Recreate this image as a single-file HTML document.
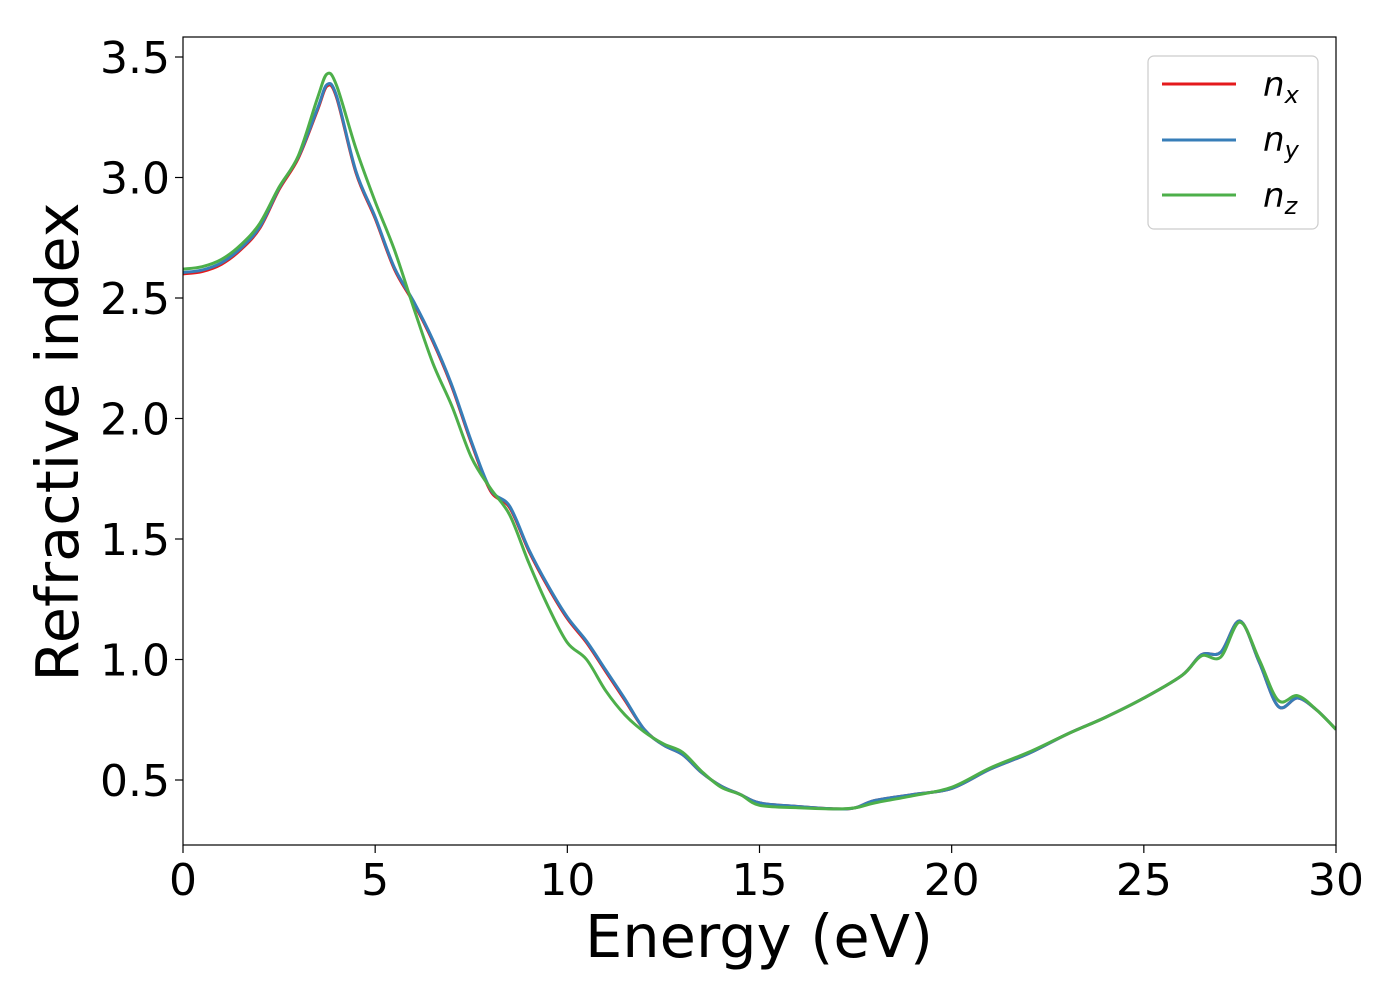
<!DOCTYPE html>
<html><head><meta charset="utf-8"><style>
body{margin:0;background:#fff;font-family:"Liberation Sans","DejaVu Sans",sans-serif}
svg text{font-family:"DejaVu Sans","Liberation Sans",sans-serif}
</style></head><body>
<svg id="chart" width="1400" height="1000" viewBox="0 0 1400 1000" xmlns="http://www.w3.org/2000/svg">
<rect width="1400" height="1000" fill="#fff"/>
<g id="plot"></g>
<g id="axes"></g>
</svg>
<script>
const energies = [0,0.5,1,1.5,2,2.5,3,3.5,3.75,4,4.5,5,5.5,6,6.5,7,7.5,8,8.5,9,9.5,10,10.5,11,11.5,12,12.5,13,13.5,14,14.5,15,16,17,17.5,18,19,20,21,22,23,24,25,26,26.5,27,27.5,28,28.5,29,29.5,30];
const nxValues = [2.60,2.61,2.64,2.70,2.79,2.95,3.08,3.28,3.38,3.33,3.02,2.83,2.62,2.48,2.32,2.13,1.90,1.70,1.63,1.45,1.30,1.17,1.07,0.95,0.83,0.71,0.645,0.605,0.53,0.475,0.44,0.405,0.39,0.38,0.385,0.415,0.44,0.465,0.545,0.61,0.69,0.76,0.84,0.935,1.02,1.03,1.16,0.99,0.805,0.84,0.79,0.71];
const nyValues = nxValues.map((v,i)=>v+(energies[i]<12?0.006:0));
const nzValues = [2.62,2.63,2.66,2.72,2.81,2.96,3.09,3.33,3.43,3.38,3.12,2.90,2.70,2.46,2.23,2.05,1.84,1.71,1.60,1.40,1.22,1.07,1.00,0.87,0.77,0.70,0.65,0.615,0.535,0.47,0.44,0.395,0.385,0.38,0.385,0.405,0.435,0.47,0.55,0.615,0.69,0.76,0.84,0.935,1.015,1.01,1.155,1.00,0.83,0.85,0.79,0.71];
const xTicks = [0,5,10,15,20,25,30];
const yTicks = [0.5,1.0,1.5,2.0,2.5,3.0,3.5];
const yTickLabels = ["0.5","1.0","1.5","2.0","2.5","3.0","3.5"];

const X0=183,X1=1336,Y0=37,Y1=845;
const xs = v => X0 + (v-0)/(30-0)*(X1-X0);
const ys = v => 780 - (v-0.5)*241;
const NS="http://www.w3.org/2000/svg";
function mk(tag,attrs,parent){const e=document.createElementNS(NS,tag);for(const k in attrs)e.setAttribute(k,attrs[k]);parent.appendChild(e);return e;}
function path(xv,yv){
  const p=xv.map((x,i)=>[xs(x),ys(yv[i])]);
  let d=`M${p[0][0]},${p[0][1]}`;
  for(let i=0;i<p.length-1;i++){
    const a=p[Math.max(0,i-1)],b=p[i],c=p[i+1],e=p[Math.min(p.length-1,i+2)];
    const c1=[b[0]+(c[0]-a[0])/6,b[1]+(c[1]-a[1])/6],c2=[c[0]-(e[0]-b[0])/6,c[1]-(e[1]-b[1])/6];
    d+=`C${c1[0]},${c1[1]} ${c2[0]},${c2[1]} ${c[0]},${c[1]}`;
  }
  return d;
}
const plot=document.getElementById('plot'), axes=document.getElementById('axes');
const clip=mk('clipPath',{id:'clp'},plot);mk('rect',{x:X0,y:Y0,width:X1-X0,height:Y1-Y0},clip);
const series=[["nx",nxValues,"#e41a1c"],["ny",nyValues,"#377eb8"],["nz",nzValues,"#4daf4a"]];
series.forEach(s=>{
  const el=mk('path',{d:path(energies,s[1]),fill:'none',stroke:s[2],'stroke-width':3,'clip-path':'url(#clp)'},plot);
  
  
});
const frame=mk('rect',{x:X0,y:Y0,width:X1-X0,height:Y1-Y0,fill:'none',stroke:'#000','stroke-width':1.2},axes);


xTicks.forEach(t=>{
  mk('line',{x1:xs(t),x2:xs(t),y1:Y1,y2:Y1+8,stroke:'#000','stroke-width':1.2},axes);
  const tx=mk('text',{x:xs(t),y:Y1+50,'font-size':44,'text-anchor':'middle'},axes);
  tx.textContent=t;
  
  
});
yTicks.forEach((t,i)=>{
  mk('line',{x1:X0-8,x2:X0,y1:ys(t),y2:ys(t),stroke:'#000','stroke-width':1.2},axes);
  const tx=mk('text',{x:X0-13,y:ys(t)+16,'font-size':44,'text-anchor':'end'},axes);
  tx.textContent=yTickLabels[i];
  
  
});
</script>
<svg style="position:absolute;left:0;top:0" width="1400" height="1000">
<text x="759" y="957" font-size="59" text-anchor="middle" font-family="DejaVu Sans, sans-serif">Energy (eV)</text>
<text transform="translate(78,442) rotate(-90)" font-size="59" text-anchor="middle" font-family="DejaVu Sans, sans-serif">Refractive index</text>
<g>
<rect x="1148" y="56" width="170" height="173" rx="6" fill="#fff" stroke="#ccc" stroke-width="1.2"/>
<line x1="1162" x2="1236" y1="84" y2="84" stroke="#e41a1c" stroke-width="3"/>
<line x1="1162" x2="1236" y1="140" y2="140" stroke="#377eb8" stroke-width="3"/>
<line x1="1162" x2="1236" y1="195" y2="195" stroke="#4daf4a" stroke-width="3"/>
<text x="1263" y="96" font-size="34" font-style="italic" font-family="DejaVu Sans, sans-serif">n<tspan font-size="24" dy="7">x</tspan></text>
<text x="1263" y="151" font-size="34" font-style="italic" font-family="DejaVu Sans, sans-serif">n<tspan font-size="24" dy="7">y</tspan></text>
<text x="1263" y="207" font-size="34" font-style="italic" font-family="DejaVu Sans, sans-serif">n<tspan font-size="24" dy="7">z</tspan></text>
</g>
</svg>
</body></html>
